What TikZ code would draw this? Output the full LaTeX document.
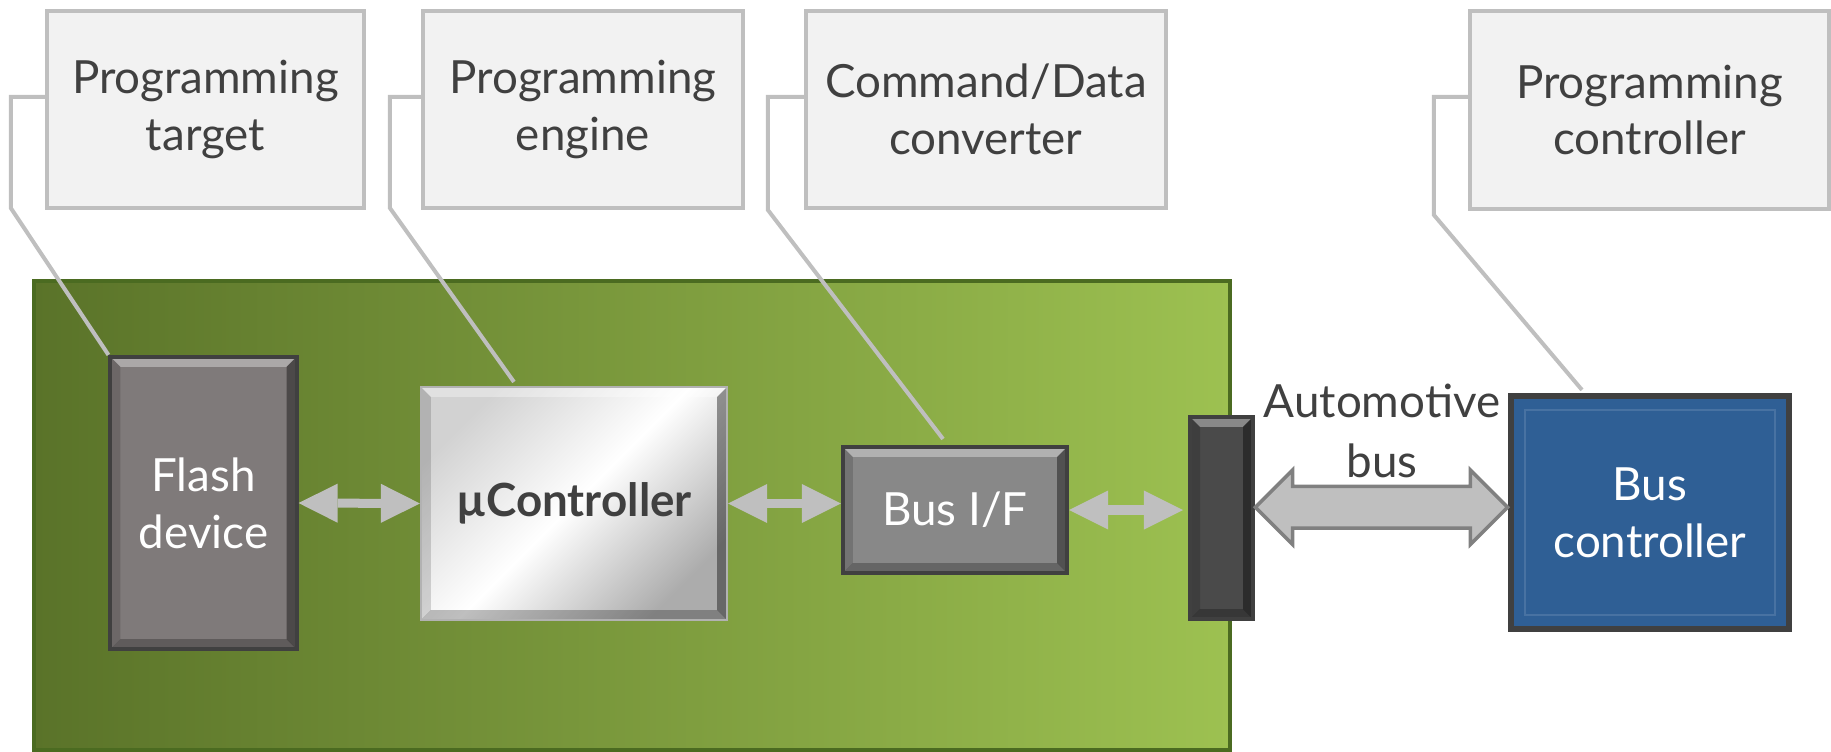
\documentclass[tikz,border=0pt]{standalone}
\usepackage{fontspec}
\setmainfont{Lato}
\usetikzlibrary{arrows.meta,shapes.arrows}

\definecolor{calloutfill}{HTML}{F2F2F2}
\definecolor{calloutline}{HTML}{BFBFBF}
\definecolor{textgray}{HTML}{404040}
\definecolor{boardleft}{HTML}{5A7329}
\definecolor{boardright}{HTML}{9DC151}
\definecolor{boardline}{HTML}{4B6B21}
\definecolor{flashgray}{HTML}{7F7A7A}
\definecolor{ifgray}{HTML}{888888}
\definecolor{conngray}{HTML}{4A4A4A}
\definecolor{ctlblue}{HTML}{2F5F95}
\definecolor{arrowgray}{HTML}{BFBFBF}
\definecolor{arrowline}{HTML}{808080}

\begin{document}
\begin{tikzpicture}
			[x=0.01cm,y=-0.01cm,
			every node/.style={align=center,inner sep=0pt,font=\fontsize{13pt}{16.2pt}\selectfont},
			callout/.style={draw=calloutline,fill=calloutfill,line width=0.04cm,text=textgray,minimum height=1.97cm},
			leader/.style={draw=calloutline,line width=0.04cm},
			bevel/.style={path picture={
				\path (path picture bounding box.north west) coordinate (nw)
				(path picture bounding box.south east) coordinate (se);
				\fill[white,opacity=.35] (nw) -- (nw -| se) -- ([shift={(-10,10)}]nw -| se) -- ([shift={(10,10)}]nw) -- cycle;
				\fill[black,opacity=.4] (se) -- (se |- nw) -- ([shift={(-10,10)}]se |- nw) -- ([shift={(-10,-10)}]se) -- cycle;
				\fill[black,opacity=.25] (se) -- (nw |- se) -- ([shift={(10,-10)}]nw |- se) -- ([shift={(-10,-10)}]se) -- cycle;
				\fill[black,opacity=.15] (nw) -- (nw |- se) -- ([shift={(10,-10)}]nw |- se) -- ([shift={(10,10)}]nw) -- cycle;}},
			block/.style={draw=black!75,line width=0.04cm,bevel,text=white},
			link/.style={color=arrowgray,line width=0.09cm,every edge/.append style={
				{Triangle[length=0.39cm,width=0.39cm,line width=0pt]}-{Triangle[length=0.39cm,width=0.39cm,line width=0pt]}}},
			busarrow/.style={shape=double arrow,draw=arrowline,fill=arrowgray,line width=0.035cm,
				double arrow head extend=0.165cm,inner xsep=0pt,inner ysep=0.19cm,minimum height=2.52cm}]
			\useasboundingbox (0,0) rectangle (1831,752);
			% board and its parts
			\node[draw=boardline,line width=0.04cm,left color=boardleft,right color=boardright,
				minimum width=11.96cm,minimum height=4.69cm] (board) at (632,515.5) {};
			\node[block,fill=flashgray,minimum width=1.86cm,minimum height=2.92cm] (flash) at (203.5,503) {Flash\\device};
			\node[draw=gray!60,line width=0.02cm,top color=gray!35,bottom color=gray!65,middle color=white,shading angle=45,
				bevel,text=textgray,font=\fontsize{13pt}{16.2pt}\selectfont\bfseries,
				minimum width=3.06cm,minimum height=2.33cm] (mcu) at (574,503.5) {µController};
			\node[block,fill=ifgray,minimum width=2.24cm,minimum height=1.26cm] (busif) at (955,510) {Bus I/F};
			\node[block,fill=conngray,minimum width=0.63cm,minimum height=2.02cm] (conn) at (1221.5,518) {};
			\node[draw=black!75,line width=0.06cm,fill=ctlblue,text=white,minimum width=2.78cm,minimum height=2.33cm,
				path picture={\draw[ctlblue!88!white,line width=0.015cm]
					([shift={(14,14)}]path picture bounding box.north west) rectangle
					([shift={(-14,-14)}]path picture bounding box.south east);}] (busctl) at (1650,512.5) {Bus\\controller};
			% callouts
			\node[callout,minimum width=3.17cm] (c1) at (205.4,109.5) {Programming\\target};
			\node[callout,minimum width=3.20cm] (c2) at (583,109.5) {Programming\\engine};
			\node[callout,minimum width=3.60cm] (c3) at (986,109.5) {Command/Data\\converter};
			\node[callout,minimum width=3.59cm] (c4) at (1649.5,110) {Programming\\controller};
			\draw[leader] ([yshift=0.125cm]c1.west) -- ++(-34,0) -- ++(0,111) -- (flash.north west);
			\draw[leader] ([yshift=0.125cm]c2.west) -- ++(-31,0) -- ++(0,111) -- ([xshift=-0.6cm,yshift=0.04cm]mcu.north);
			\draw[leader] ([yshift=0.125cm]c3.west) -- ++(-36,0) -- ++(0,113) -- ([xshift=-0.12cm,yshift=0.06cm]busif.north);
			\draw[leader] ([yshift=0.13cm]c4.west) -- ++(-34,0) -- ++(0,118) -- ([xshift=-0.68cm,yshift=0.03cm]busctl.north);
			% links
			\coordinate (mcuout) at (mcu.east -| busif.west);
			\coordinate (connin) at ([xshift=-0.05cm]conn.west |- busif.east);
			\path[link]
			(flash.east) edge (mcu.west)
			(mcu.east) edge (mcuout)
			(busif.east) edge (connin);
			\path (conn.east) -- node[busarrow,yshift=0.08cm] (autobus) {} (busctl.west);
			\node[text=textgray,font=\fontsize{13pt}{17pt}\selectfont] (buslabel) at (1382,431) {Automotive\\bus};
		\end{tikzpicture}
\end{document}
